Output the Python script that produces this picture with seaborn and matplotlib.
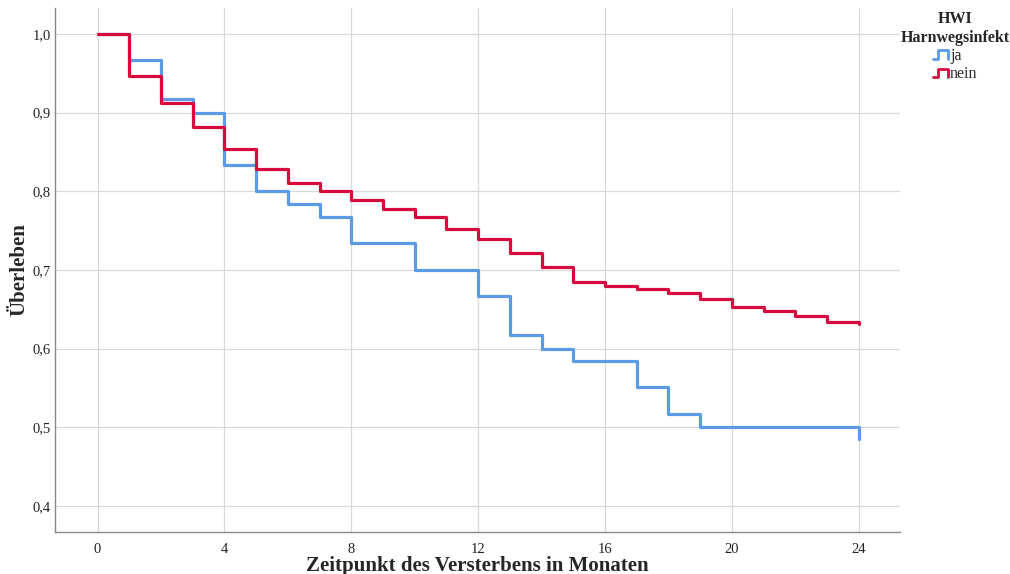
import numpy as np
import pandas as pd
import matplotlib
matplotlib.use("Agg")
import matplotlib.pyplot as plt
import seaborn as sns
from matplotlib.lines import Line2D
from matplotlib.legend_handler import HandlerBase
from matplotlib.ticker import FuncFormatter

# --- Daten ---
monate = list(range(0, 25))
ueberleben_ja = [1.000, 0.967, 0.917, 0.900, 0.834, 0.800, 0.784, 0.767, 0.734, 0.734,
                 0.700, 0.700, 0.667, 0.618, 0.600, 0.584, 0.584, 0.551, 0.517, 0.500,
                 0.500, 0.500, 0.500, 0.500, 0.485]
ueberleben_nein = [1.000, 0.947, 0.912, 0.882, 0.854, 0.829, 0.810, 0.800, 0.789, 0.777,
                   0.767, 0.752, 0.739, 0.722, 0.704, 0.685, 0.680, 0.676, 0.671, 0.663,
                   0.653, 0.648, 0.641, 0.634, 0.631]
gruppen = ["ja", "nein"]
farben = {"ja": "#5B9BE6", "nein": "#D60A3C"}
x_ticks = [0, 4, 8, 12, 16, 20, 24]
y_ticks = [0.4, 0.5, 0.6, 0.7, 0.8, 0.9, 1.0]

df = pd.DataFrame({
    "Monat": monate * 2,
    "Überleben": ueberleben_ja + ueberleben_nein,
    "HWI": ["ja"] * len(monate) + ["nein"] * len(monate),
})

sns.set_theme(style="white")
plt.rcParams['font.family'] = ['Liberation Serif', 'DejaVu Serif']

fig = plt.figure(figsize=(10.1, 5.74), dpi=100)
ax = fig.add_axes([0.0545, 0.0732, 0.8365, 0.9128])

sns.lineplot(data=df, x="Monat", y="Überleben", hue="HWI", hue_order=gruppen,
             palette=farben, drawstyle="steps-post", linewidth=2.3,
             legend=False, ax=ax, zorder=3)

ax.set_xlim(-1.34, 25.3)
ax.set_ylim(0.367, 1.033)
ax.set_xticks(x_ticks)
ax.set_yticks(y_ticks)
ax.yaxis.set_major_formatter(FuncFormatter(lambda v, p: f"{v:.1f}".replace(".", ",")))
ax.grid(True, color="#d9d9d9", linewidth=0.9)
ax.tick_params(axis="y", length=0, labelsize=10.5, labelcolor="#222222", pad=3)
ax.tick_params(axis="x", length=0, labelsize=10.5, labelcolor="#222222", pad=8)
for s in ["top", "right"]:
    ax.spines[s].set_visible(False)
for s in ["left", "bottom"]:
    ax.spines[s].set_color("#888888")
    ax.spines[s].set_linewidth(1.0)

# Achsenbeschriftungen an feste Positionen
ax.set_xlabel("")
ax.set_ylabel("")
fig.text(0.473, 0.014, "Zeitpunkt des Versterbens in Monaten", fontsize=15,
         fontweight="bold", ha="center", va="center")
fig.text(0.019, 0.530, "Überleben", fontsize=15, fontweight="bold",
         rotation=90, ha="center", va="center")


# kleine Stufen-Symbole in der Legende
class StufenHandler(HandlerBase):
    def create_artists(self, legend, orig_handle, xdescent, ydescent, width, height, fontsize, trans):
        x0, y0 = -xdescent, -ydescent
        xs = [x0, x0 + 0.3 * width, x0 + 0.3 * width, x0 + width, x0 + width]
        ys = [y0 + 0.1 * height, y0 + 0.1 * height, y0 + 0.85 * height, y0 + 0.85 * height, y0 + 0.1 * height]
        line = Line2D(xs, ys, color=orig_handle.get_color(), linewidth=2.0, transform=trans)
        return [line]


handles = [Line2D([], [], color=farben[g]) for g in gruppen]
leg = fig.legend(handles, gruppen, handler_map={Line2D: StufenHandler()},
                 loc="upper center", bbox_to_anchor=(0.946, 1.0), frameon=False,
                 title="HWI\nHarnwegsinfekt", fontsize=11.5, handlelength=0.9,
                 handletextpad=0.15, labelspacing=0.15, borderpad=0.2)
leg.get_title().set_fontweight("bold")
leg.get_title().set_fontsize(11.5)
leg.get_title().set_ha("center")

fig.savefig("out.png", dpi=100)
